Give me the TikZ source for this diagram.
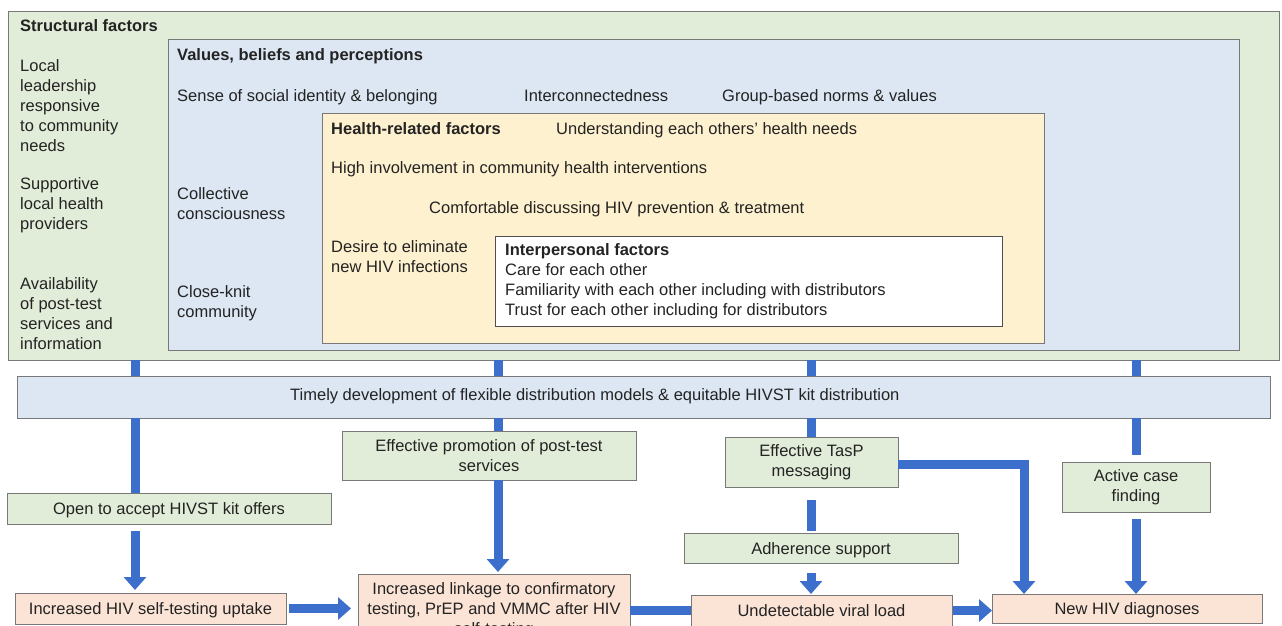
\documentclass[tikz,border=0pt]{standalone}
\usepackage{fontspec}
\setmainfont{Liberation Sans}
\usetikzlibrary{arrows.meta}
\definecolor{gfill}{RGB}{226,237,217}
\definecolor{bfill}{RGB}{220,231,243}
\definecolor{ofill}{RGB}{254,241,207}
\definecolor{pfill}{RGB}{251,228,214}
\definecolor{edge}{RGB}{120,120,120}
\definecolor{flowblue}{RGB}{60,110,204}
\definecolor{ink}{RGB}{35,35,35}
\begin{document}
\begin{tikzpicture}[x=1pt,y=-1pt,
  font=\fontsize{16.5}{20}\selectfont, text=ink,
  container/.style={draw=edge, line width=1pt, inner sep=0pt, outer sep=0pt, anchor=north west},
  box/.style={container, align=center},
  onebox/.style={container, text height=12.5pt, text depth=0pt},
  lbl/.style={anchor=west, inner sep=0pt, align=left},
  one/.style={anchor=base west, inner sep=0pt},
  hd/.style={one, font=\fontsize{16.5}{20}\selectfont\bfseries},
  barline/.style={draw=flowblue, line width=9pt},
  flow/.style={barline, -{Triangle[width=22pt,length=13pt]}}]

\useasboundingbox (0,0) rectangle (1282,626);
\clip (0,0) rectangle (1282,626);
\fill[white] (0,0) rectangle (1282,626);

% containers
\node[container, fill=gfill, minimum width=1271pt, minimum height=348pt] (outer) at (8,12) {};
\node[container, fill=bfill, minimum width=1071pt, minimum height=310pt] (values) at (168,40) {};
\node[container, fill=ofill, minimum width=722pt, minimum height=230pt] (health) at (322,113) {};
\node[container, fill=white, draw=ink!80, minimum width=507pt, minimum height=90pt] (inter) at (495,236) {};

% structural texts
\node[hd] (sfh) at (20,32) {Structural factors};
\node[lbl] (s1) at (20,106) {Local\\leadership\\responsive\\to community\\needs};
\node[lbl] (s2) at (20,205) {Supportive\\local health\\providers};
\node[lbl] (s3) at (20,314) {Availability\\of post-test\\services and\\information};

% values texts
\node[hd] (vh) at (177,61) {Values, beliefs and perceptions};
\node[one] (v1) at (177,101) {Sense of social identity \& belonging};
\node[one] (v2) at (524,101) {Interconnectedness};
\node[one] (v3) at (722,101) {Group-based norms \& values};
\node[lbl] (v4) at (177,203.5) {Collective\\consciousness};
\node[lbl] (v5) at (177,303) {Close-knit\\community};

% health texts
\node[hd] (hh) at (331,134) {Health-related factors};
\node[one] (h1) at (556,134) {Understanding each others' health needs};
\node[one] (h2) at (331,173.5) {High involvement in community health interventions};
\node[one] (h3) at (429,213) {Comfortable discussing HIV prevention \& treatment};
\node[lbl] (h4) at (331,257) {Desire to eliminate\\new HIV infections};

% interpersonal texts
\node[lbl] (i1) at (505,281) {{\bfseries Interpersonal factors}\\Care for each other\\Familiarity with each other including with distributors\\Trust for each other including for distributors};

% distribution bar
\node[container, fill=bfill, minimum width=1253pt, minimum height=42pt] (dist) at (17,376) {};
\node[one] (distt) at (290,400) {Timely development of flexible distribution models \& equitable HIVST kit distribution};

% middle boxes
\node[onebox, fill=gfill, minimum width=324pt, minimum height=31pt] (open) at (7,493) {Open to accept HIVST kit offers};
\node[box, fill=gfill, minimum width=294pt, minimum height=49pt] (promo) at (342,431) {Effective promotion of post-test\\services};
\node[box, fill=gfill, minimum width=173pt, minimum height=50pt] (tasp) at (725,437) {Effective TasP\\messaging};
\node[onebox, fill=gfill, minimum width=274pt, minimum height=30pt] (adher) at (684,533) {Adherence support};
\node[box, fill=gfill, minimum width=148pt, minimum height=50pt] (active) at (1062,462) {Active case\\finding};

% outcome boxes
\node[onebox, fill=pfill, minimum width=271pt, minimum height=31pt] (self) at (15,593) {Increased HIV self-testing uptake};
\node[container, fill=pfill, minimum width=272pt, minimum height=75pt] (link) at (358,574) {};
\node[lbl, anchor=north, align=center] (linkt) at (494,582) {Increased linkage to confirmatory\\testing, PrEP and VMMC after HIV\\self-testing};
\node[onebox, fill=pfill, minimum width=261pt, minimum height=31pt] (undet) at (691,595) {Undetectable viral load};
\node[onebox, fill=pfill, minimum width=270pt, minimum height=29pt] (new) at (992,594) {New HIV diagnoses};

% columns
\coordinate (c1) at (135,0);
\coordinate (c2) at (498,0);
\coordinate (c3) at (811,0);
\coordinate (c4) at (1136,0);
\coordinate (c5) at (1024,0);

% stubs from structural factors to distribution
\foreach \c in {c1,c2,c3,c4}
  \draw[barline] (outer.south -| \c) -- (dist.north -| \c);

% column 1
\draw[barline] (dist.south -| c1) -- (open.north -| c1);
\draw[flow, shorten <=7pt, shorten >=3pt] (open.south -| c1) -- (self.north -| c1);
% column 2
\draw[barline] (dist.south -| c2) -- (promo.north -| c2);
\draw[flow, shorten >=2pt] (promo.south -| c2) -- (link.north -| c2);
% column 3
\draw[barline] (dist.south -| c3) -- (tasp.north -| c3);
\draw[barline, shorten <=13pt, shorten >=2pt] (tasp.south -| c3) -- (adher.north -| c3);
\draw[flow, shorten <=10pt, shorten >=1pt] (adher.south -| c3) -- (undet.north -| c3);
\draw[flow] ([yshift=-2pt]tasp.east) -- ([yshift=-2pt]tasp.east -| c5) -- (new.north -| c5);
% column 4
\draw[barline, shorten >=7pt] (dist.south -| c4) -- (active.north -| c4);
\draw[flow, shorten <=7pt] (active.south -| c4) -- (new.north -| c4);
% bottom row
\draw[flow, shorten <=3pt, shorten >=7pt] (self.east) -- (self.east -| link.west);
\draw[barline] (link.east |- undet.center) -- (undet.west);
\draw[flow, shorten <=1pt] (undet.east) -- (undet.east -| new.west);
\end{tikzpicture}
\end{document}
